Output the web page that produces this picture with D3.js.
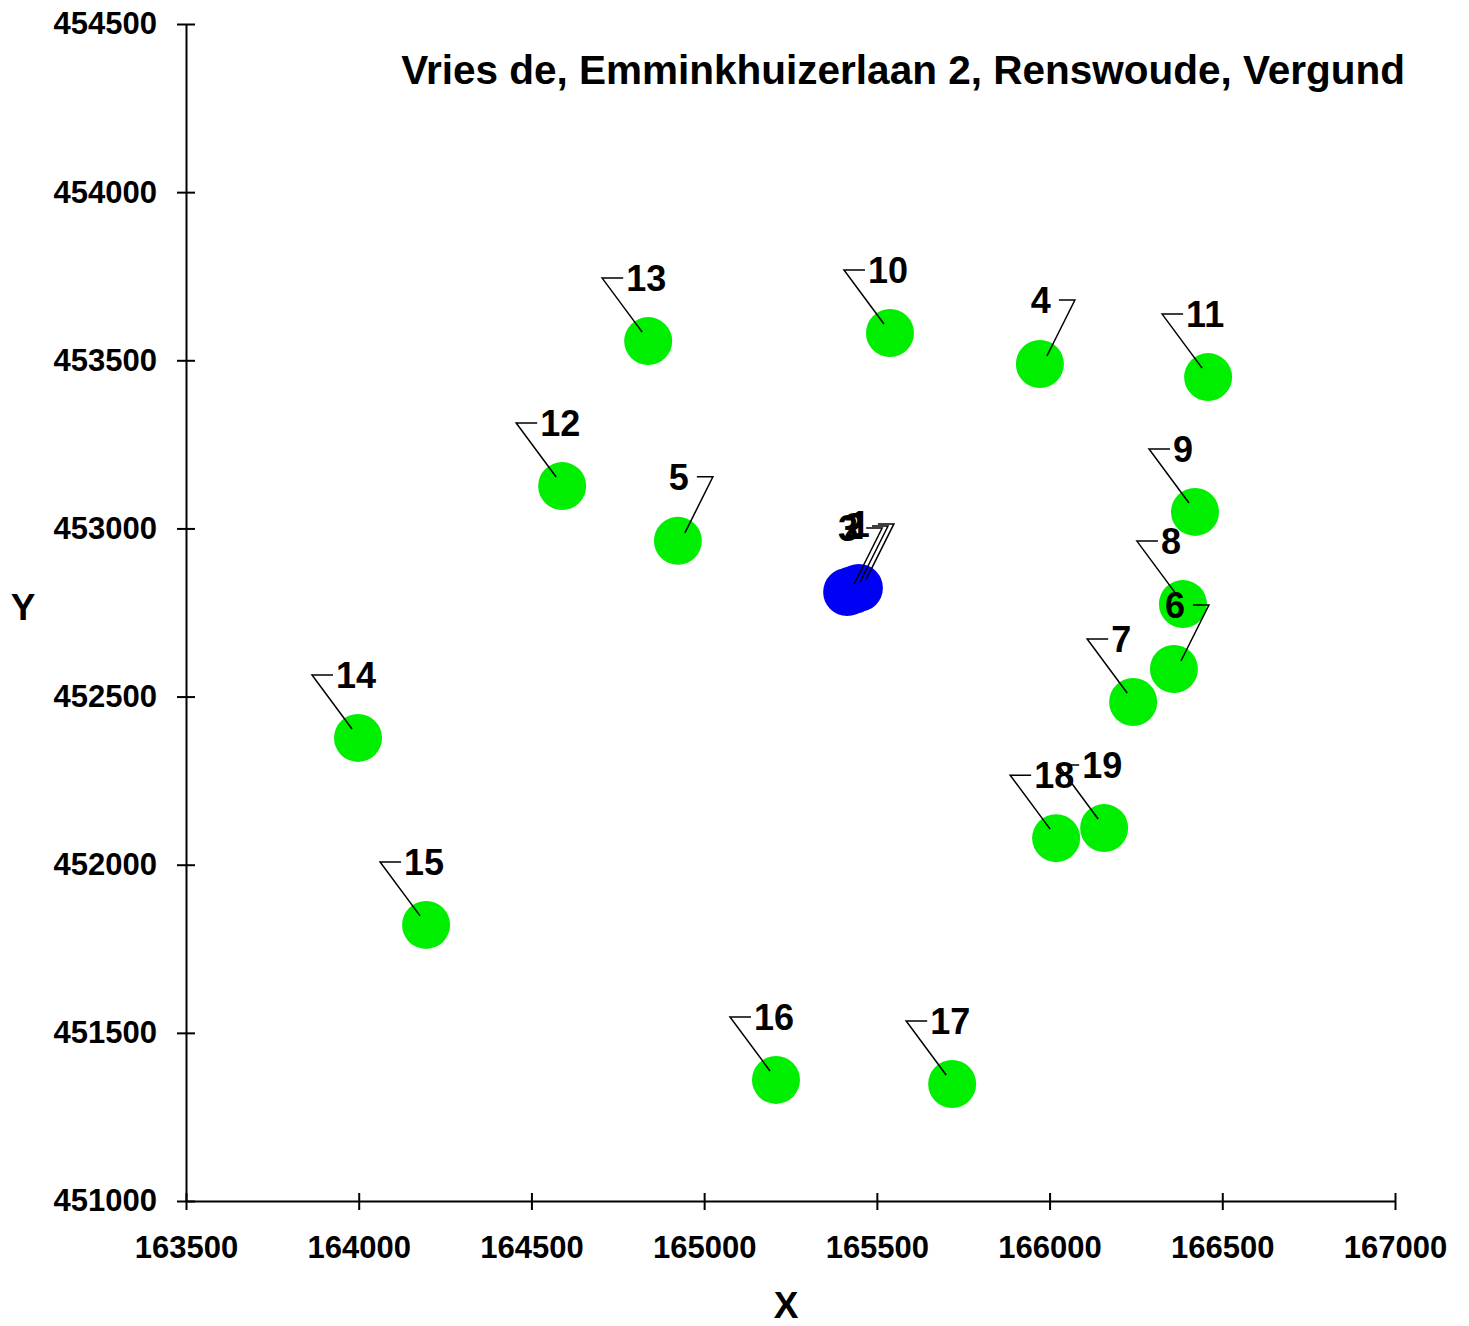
<!DOCTYPE html>
<html>
<head>
<meta charset="utf-8">
<title>Vries de, Emminkhuizerlaan 2</title>
<style>
  body{ margin:0; background:#fff; }
  svg{ display:block; font-family:"Liberation Sans", Arial, sans-serif; font-weight:bold; }
</style>
</head>
<body>
<script src="https://cdn.jsdelivr.net/npm/d3@7"></script>
<script>
// data
var ids    = [1, 2, 3, 4, 5, 6, 7, 8, 9, 10, 11, 12, 13, 14, 15, 16, 17, 18, 19];
var xVals  = [165448, 165431, 165414, 165972, 164924, 166360, 166242, 166386, 166421, 165538,
              166459, 164589, 164838, 163998, 164195, 165208, 165718, 166019, 166158];
var yVals  = [452823, 452817, 452811, 453489, 452963, 452582, 452484, 452775, 453049, 453581,
              453450, 453126, 453557, 452377, 451821, 451360, 451348, 452079, 452109];
var groups = ['bron', 'bron', 'bron', 'pand', 'pand', 'pand', 'pand', 'pand', 'pand', 'pand',
              'pand', 'pand', 'pand', 'pand', 'pand', 'pand', 'pand', 'pand', 'pand'];
// side of the callout label: R = label left of a knee to the upper right, L = knee to the upper left
var sides  = ['R', 'R', 'R', 'R', 'R', 'R', 'L', 'L', 'L', 'L',
              'L', 'L', 'L', 'L', 'L', 'L', 'L', 'L', 'L'];
var xTicks = [163500, 164000, 164500, 165000, 165500, 166000, 166500, 167000];
var yTicks = [451000, 451500, 452000, 452500, 453000, 453500, 454000, 454500];
var title  = 'Vries de, Emminkhuizerlaan 2, Renswoude, Vergund';

var W = 1469, H = 1326;
var colors = {bron: '#0000f5', pand: '#00ee00'};

var svg = d3.select('body').append('svg').attr('width', W).attr('height', H);

var x = d3.scaleLinear().domain([163500, 167000]).range([186, 1395]);
var y = d3.scaleLinear().domain([451000, 454500]).range([1201, 24]);

// axes, ticks crossing the line
var xAxis = svg.append('g').attr('transform', 'translate(0,1201)')
  .call(d3.axisBottom(x).tickValues(xTicks).tickFormat(d3.format('d')).tickSize(9).tickSizeOuter(0));
xAxis.selectAll('.tick line').attr('y1', -8).attr('y2', 9);
xAxis.selectAll('.tick text').attr('y', 57).attr('dy', 0);

var yAxis = svg.append('g').attr('transform', 'translate(186,0)')
  .call(d3.axisLeft(y).tickValues(yTicks).tickFormat(d3.format('d')).tickSize(9).tickPadding(20).tickSizeOuter(0));
yAxis.selectAll('.tick line').attr('x1', 9);

svg.selectAll('.domain, .tick line').attr('stroke', '#000').attr('stroke-width', 2);
svg.selectAll('.tick text').attr('fill', '#000')
  .style('font-family', '"Liberation Sans", Arial, sans-serif')
  .style('font-weight', 'bold').style('font-size', '31px');

// axis titles + title
svg.append('text').attr('x', 786).attr('y', 1318).attr('text-anchor', 'middle')
  .style('font-size', '37px').text('X');
svg.append('text').attr('x', 23).attr('y', 620).attr('text-anchor', 'middle')
  .style('font-size', '37px').text('Y');
svg.append('text').attr('x', 1405).attr('y', 84).attr('text-anchor', 'end')
  .style('font-size', '40.5px').text(title);

var pts = ids.map(function(id, i){
  return {id: id, x: xVals[i], y: yVals[i], g: groups[i], side: sides[i]};
});

// markers
svg.append('g').selectAll('circle').data(pts).enter().append('circle')
  .attr('cx', function(d){ return x(d.x); })
  .attr('cy', function(d){ return y(d.y); })
  .attr('r', 24)
  .attr('fill', function(d){ return colors[d.g]; });

// callout lines
svg.append('g').selectAll('path').data(pts).enter().append('path')
  .attr('fill', 'none').attr('stroke', '#000').attr('stroke-width', 1.5)
  .attr('d', function(d){
    var px = x(d.x), py = y(d.y);
    if(d.side == 'L'){
      return 'M' + (px - 6) + ',' + (py - 9) + 'L' + (px - 46) + ',' + (py - 63) + 'L' + (px - 25) + ',' + (py - 63);
    }
    return 'M' + (px + 7) + ',' + (py - 8) + 'L' + (px + 35) + ',' + (py - 64) + 'L' + (px + 19) + ',' + (py - 64);
  });

// labels
svg.append('g').selectAll('text').data(pts).enter().append('text')
  .style('font-size', '36px')
  .attr('dy', '0.36em')
  .attr('text-anchor', function(d){ return d.side == 'L' ? 'start' : 'end'; })
  .attr('x', function(d){ return d.side == 'L' ? x(d.x) - 22 : x(d.x) + 11; })
  .attr('y', function(d){ return y(d.y) - (d.side == 'L' ? 63 : 64); })
  .text(function(d){ return d.id; });
</script>
</body>
</html>
